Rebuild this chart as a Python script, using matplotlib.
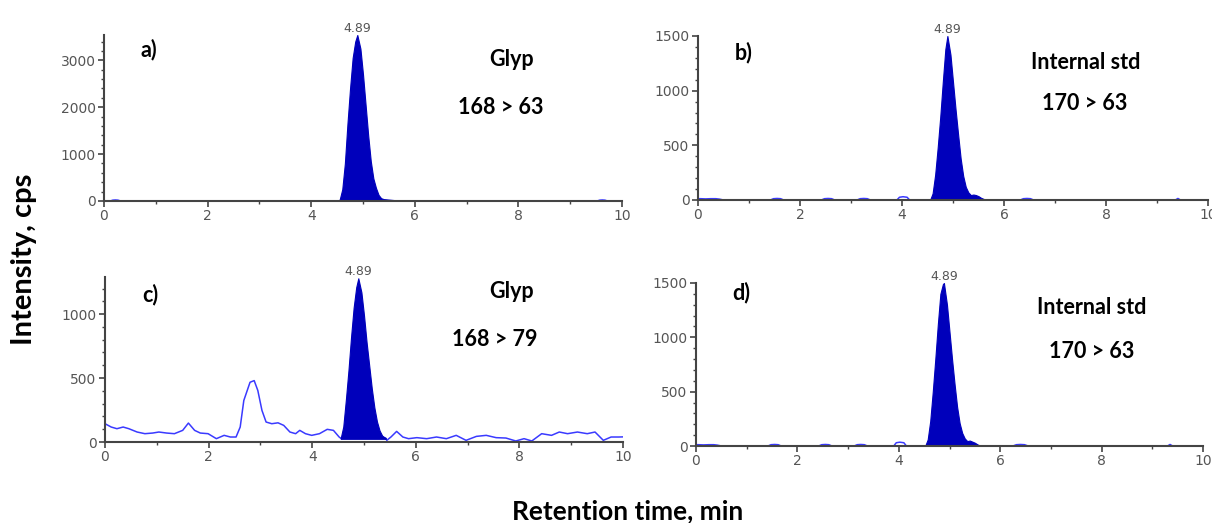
import numpy as np
import matplotlib.pyplot as plt
from matplotlib.ticker import MultipleLocator

# ---- data ----
# a) Glyp 168 > 63
a_time = [0.0, 0.12, 0.17, 0.22, 0.27, 0.32, 4.5, 5.65, 9.52, 9.57, 9.62, 9.67, 9.72, 10.0]
a_int = [0, 0, 18, 22, 18, 0, 0, 0, 0, 18, 22, 18, 0, 0]
a_peak_time = [4.50, 4.55, 4.60, 4.65, 4.70, 4.75, 4.80, 4.85, 4.89, 4.95, 5.00, 5.05, 5.10,
               5.15, 5.20, 5.25, 5.30, 5.35, 5.40, 5.45, 5.50, 5.55, 5.60, 5.65]
a_peak_int = [0, 30, 250, 800, 1650, 2400, 3050, 3400, 3540, 3250, 2700, 2050, 1400,
              850, 480, 280, 130, 60, 40, 35, 30, 25, 20, 0]

# b) Internal std 170 > 63
b_time = [0.0, 0.05, 0.15, 0.25, 0.35, 0.42, 0.5, 1.42, 1.48, 1.55, 1.62, 1.68,
          2.42, 2.48, 2.55, 2.62, 2.68, 3.12, 3.18, 3.25, 3.32, 3.38,
          3.9, 3.95, 4.02, 4.1, 4.15, 4.5, 5.65, 6.32, 6.38, 6.45, 6.52, 6.58,
          9.36, 9.41, 9.46, 10.0]
b_int = [12, 12, 10, 12, 12, 8, 0, 0, 12, 14, 12, 0,
         0, 12, 14, 12, 0, 0, 12, 14, 12, 0,
         0, 25, 30, 25, 0, 0, 0, 0, 12, 14, 12, 0,
         0, 14, 0, 0]
b_peak_time = [4.55, 4.60, 4.65, 4.70, 4.75, 4.80, 4.85, 4.89, 4.95, 5.00, 5.05, 5.10,
               5.15, 5.20, 5.25, 5.30, 5.35, 5.40, 5.45, 5.50, 5.55, 5.60, 5.65]
b_peak_int = [0, 60, 230, 480, 760, 1080, 1380, 1500, 1330, 1080, 830, 600,
              380, 220, 120, 70, 45, 50, 45, 35, 20, 10, 0]

# c) Glyp 168 > 79
c_time = [0.0, 0.12, 0.23, 0.35, 0.46, 0.62, 0.77, 0.92, 1.04, 1.19, 1.34, 1.50,
          1.61, 1.73, 1.84, 1.99, 2.15, 2.30, 2.42, 2.53, 2.61, 2.68, 2.80, 2.88,
          2.95, 3.03, 3.11, 3.22, 3.34, 3.45, 3.57, 3.68, 3.76, 3.87, 3.99, 4.14,
          4.29, 4.41, 4.52, 4.55, 5.42, 5.44, 5.52, 5.63, 5.75, 5.86, 6.02, 6.21,
          6.40, 6.59, 6.78, 6.97, 7.17, 7.36, 7.55, 7.74, 7.93, 8.09, 8.24, 8.43,
          8.62, 8.77, 8.93, 9.12, 9.31, 9.46, 9.62, 9.77, 9.92, 10.0]
c_int = [143, 117, 104, 117, 104, 78, 65, 70, 78, 70, 65, 91,
         148, 91, 70, 65, 26, 52, 39, 39, 117, 325, 467, 480,
         403, 247, 156, 143, 150, 130, 78, 65, 91, 65, 52, 65,
         99, 91, 39, 30, 30, 13, 39, 83, 39, 26, 34, 26,
         39, 26, 52, 13, 44, 52, 34, 31, 8, 26, 8, 65,
         52, 78, 65, 78, 65, 78, 13, 39, 39, 40]
c_peak_time = [4.55, 4.60, 4.65, 4.70, 4.75, 4.80, 4.85, 4.89, 4.95, 5.00, 5.05, 5.10,
               5.15, 5.20, 5.25, 5.30, 5.35, 5.42]
c_peak_int = [30, 120, 330, 560, 820, 1050, 1210, 1280, 1170, 990, 780, 600,
              420, 270, 160, 90, 50, 30]

# d) Internal std 170 > 63
d_time = [0.0, 0.05, 0.15, 0.25, 0.35, 0.42, 0.5, 1.42, 1.48, 1.55, 1.62, 1.68,
          2.42, 2.48, 2.55, 2.62, 2.68, 3.12, 3.18, 3.25, 3.32, 3.38,
          3.9, 3.95, 4.02, 4.1, 4.15, 4.5, 5.62, 6.25, 6.32, 6.4, 6.48, 6.55,
          9.30, 9.35, 9.40, 10.0]
d_int = [12, 12, 10, 12, 12, 8, 0, 0, 12, 14, 12, 0,
         0, 12, 14, 12, 0, 0, 12, 14, 12, 0,
         0, 30, 35, 30, 0, 0, 0, 0, 12, 14, 12, 0,
         0, 14, 0, 0]
d_peak_time = [4.52, 4.57, 4.62, 4.67, 4.72, 4.77, 4.82, 4.87, 4.89, 4.95, 5.00, 5.05,
               5.10, 5.15, 5.20, 5.25, 5.30, 5.35, 5.40, 5.45, 5.50, 5.55, 5.62]
d_peak_int = [0, 60, 230, 500, 800, 1120, 1400, 1490, 1500, 1300, 1050, 800,
              570, 360, 210, 120, 70, 45, 50, 40, 30, 15, 0]

peak_label = "4.89"

# ---- figure ----
W, H = 1212, 523
fig = plt.figure(figsize=(W / 100, H / 100), dpi=100)


def px_axes(left, right, bottom, top):
    return fig.add_axes([left / W, 1 - bottom / H, (right - left) / W, (bottom - top) / H])


panels = [
    (px_axes(104, 622, 201, 35), a_time, a_int, a_peak_time, a_peak_int, 3540, 1000, 200, 0),
    (px_axes(698, 1208, 200, 36), b_time, b_int, b_peak_time, b_peak_int, 1500, 500, 100, 0),
    (px_axes(105, 623, 442, 277), c_time, c_int, c_peak_time, c_peak_int, 1290, 500, 100, 25),
    (px_axes(696, 1203, 446, 283), d_time, d_int, d_peak_time, d_peak_int, 1500, 500, 100, 0),
]

line_col = '#3a3aff'
fill_col = '#0000bb'
axis_col = '#444444'

for ax, t, y, pt, py, ymax, major, minor, base in panels:
    ax.plot(t, y, color=line_col, lw=1.1, zorder=2)
    ax.fill_between(pt, base, py, color=fill_col, lw=0.8,
                    edgecolor=fill_col, zorder=3)
    ax.set_xlim(0, 10)
    ax.set_ylim(0, ymax)
    ax.xaxis.set_major_locator(MultipleLocator(2))
    ax.xaxis.set_minor_locator(MultipleLocator(1))
    ax.yaxis.set_major_locator(MultipleLocator(major))
    ax.yaxis.set_minor_locator(MultipleLocator(minor))
    for s in ['top', 'right']:
        ax.spines[s].set_visible(False)
    for s in ['left', 'bottom']:
        ax.spines[s].set_color(axis_col)
        ax.spines[s].set_linewidth(1.5)
        ax.spines[s].set_zorder(4)
    ax.tick_params(which='major', direction='out', length=4, width=1.2, color=axis_col,
                   labelcolor='#555555', labelsize=10, pad=2)
    ax.tick_params(which='minor', direction='out', length=2, width=1, color=axis_col)
    ax.patch.set_alpha(0)
    ax.text(4.89, max(py), peak_label, ha='center', va='bottom', fontsize=9,
            color='#555555', clip_on=False)

# panel annotations
lab = dict(ha='center', va='center', fontsize=15.5, fontweight='bold', family='Lato')
texts = [
    ("a)", 149, 50), ("Glyp", 512, 60), ("168 > 63", 501, 107),
    ("b)", 744, 53), ("Internal std", 1086, 62), ("170 > 63", 1085, 103),
    ("c)", 150, 295), ("Glyp", 512, 292), ("168 > 79", 495, 340),
    ("d)", 741, 293), ("Internal std", 1092, 308), ("170 > 63", 1092, 352),
]
for s, x, y in texts:
    fig.text(x / W, 1 - y / H, s, **lab)

fig.text(24 / W, 1 - 259 / H, "Intensity, cps", rotation=90, ha='center', va='center',
         fontsize=21, fontweight='bold', family='Lato')
fig.text(628 / W, 1 - 511 / H, "Retention time, min", ha='center', va='center',
         fontsize=19, fontweight='bold', family='Lato')

fig.savefig('out.png', dpi=100)
